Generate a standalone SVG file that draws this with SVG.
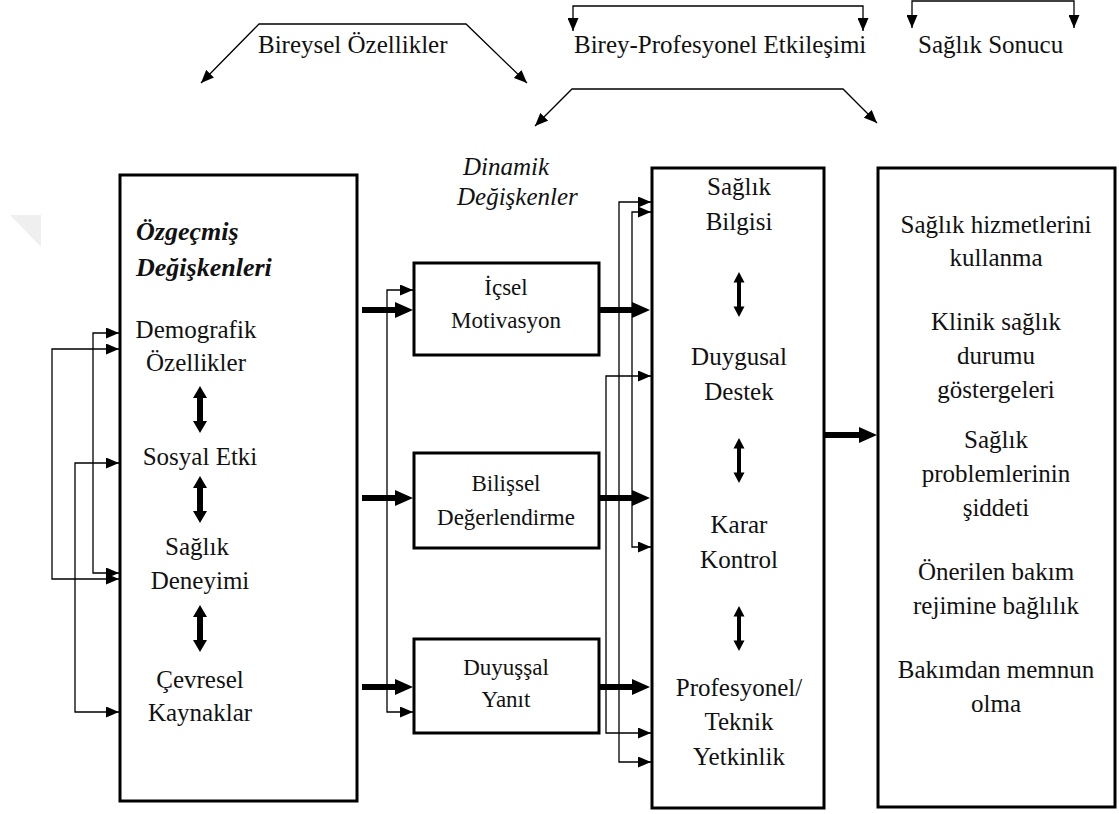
<svg xmlns="http://www.w3.org/2000/svg" width="1119" height="814" viewBox="0 0 1119 814" font-family="'Liberation Serif', 'Times New Roman', serif">
<style>
text{font-family:"Liberation Serif","Times New Roman",serif;font-size:25px;fill:#111;}
.c{text-anchor:middle;}
.m{font-size:23px;}
.bi{font-weight:bold;font-style:italic;font-size:26px;}
.it{font-style:italic;}
.box{fill:#fff;stroke:#000;stroke-width:3;}
.thin{fill:none;stroke:#000;stroke-width:1.3;}
.thick{fill:none;stroke:#000;stroke-width:6;}
.dbl{fill:#000;}
</style>
<defs>
<marker id="ah" viewBox="0 0 13 11" refX="13" refY="5.5" markerWidth="13" markerHeight="11" markerUnits="userSpaceOnUse" orient="auto-start-reverse"><path d="M0,0 L13,5.5 L0,11 Z" fill="#000"/></marker>
<marker id="ahT" viewBox="0 0 18 16" refX="1" refY="8" markerWidth="18" markerHeight="16" markerUnits="userSpaceOnUse" orient="auto"><path d="M0,0 L18,8 L0,16 Z" fill="#000"/></marker>
<path id="dblL" d="M0,-23.5 L7,-11.5 L3,-11.5 L3,11.5 L7,11.5 L0,23.5 L-7,11.5 L-3,11.5 L-3,-11.5 L-7,-11.5 Z"/>
<path id="dblS" d="M0,-22.5 L5.5,-12 L2,-12 L2,12 L5.5,12 L0,22.5 L-5.5,12 L-2,12 L-2,-12 L-5.5,-12 Z"/>
</defs>
<rect width="1119" height="814" fill="#fff"/>
<polygon points="10,215 41,215 41,247" fill="#efefef"/>

<g id="labels" font-family="'Liberation Serif', serif">
<text x="258" y="53">Bireysel Özellikler</text>
<text x="574" y="53">Birey-Profesyonel Etkileşimi</text>
<text x="918" y="53">Sağlık Sonucu</text>
<text class="it" x="463" y="175">Dinamik</text>
<text class="it" x="457" y="205">Değişkenler</text>
</g>

<g id="node-background" font-family="'Liberation Serif', serif">
<rect class="box" x="120" y="175" width="237" height="626"/>
<text class="bi" x="136" y="240">Özgeçmiş</text>
<text class="bi" x="136" y="276">Değişkenleri</text>
<text class="c" x="196" y="338">Demografik</text>
<text class="c" x="196" y="371">Özellikler</text>
<text class="c" x="200" y="465">Sosyal Etki</text>
<text class="c" x="197" y="555">Sağlık</text>
<text class="c" x="200" y="589">Deneyimi</text>
<text class="c" x="200" y="688">Çevresel</text>
<text class="c" x="200" y="721">Kaynaklar</text>
<use href="#dblL" x="200" y="409.5" class="dbl"/>
<use href="#dblL" x="200" y="499.5" class="dbl"/>
<use href="#dblL" x="200" y="628.5" class="dbl"/>
</g>

<g id="node-icsel" font-family="'Liberation Serif', serif">
<rect class="box" x="414" y="263" width="185" height="92"/>
<text class="c m" x="506" y="295">İçsel</text>
<text class="c m" x="506" y="328">Motivasyon</text>
</g>
<g id="node-bilissel" font-family="'Liberation Serif', serif">
<rect class="box" x="414" y="453" width="185" height="95"/>
<text class="c m" x="506" y="491">Bilişsel</text>
<text class="c m" x="506" y="525">Değerlendirme</text>
</g>
<g id="node-duyussal" font-family="'Liberation Serif', serif">
<rect class="box" x="414" y="639" width="185" height="94"/>
<text class="c m" x="506" y="675">Duyuşşal</text>
<text class="c m" x="506" y="707">Yanıt</text>
</g>

<g id="node-interaction" font-family="'Liberation Serif', serif">
<rect class="box" x="652" y="168" width="172" height="640"/>
<text class="c" x="739" y="195">Sağlık</text>
<text class="c" x="739" y="230">Bilgisi</text>
<text class="c" x="739" y="365">Duygusal</text>
<text class="c" x="739" y="400">Destek</text>
<text class="c" x="739" y="533">Karar</text>
<text class="c" x="739" y="568">Kontrol</text>
<text class="c" x="739" y="696">Profesyonel/</text>
<text class="c" x="739" y="730">Teknik</text>
<text class="c" x="739" y="765">Yetkinlik</text>
<use href="#dblS" x="739" y="294.5" class="dbl"/>
<use href="#dblS" x="739" y="460.5" class="dbl"/>
<use href="#dblS" x="739" y="628.5" class="dbl"/>
</g>

<g id="node-outcome" font-family="'Liberation Serif', serif">
<rect class="box" x="878" y="168" width="237" height="639"/>
<text class="c" x="996" y="233">Sağlık hizmetlerini</text>
<text class="c" x="996" y="266">kullanma</text>
<text class="c" x="996" y="330">Klinik sağlık</text>
<text class="c" x="996" y="364">durumu</text>
<text class="c" x="996" y="398">göstergeleri</text>
<text class="c" x="996" y="448">Sağlık</text>
<text class="c" x="996" y="482">problemlerinin</text>
<text class="c" x="996" y="516">şiddeti</text>
<text class="c" x="996" y="580">Önerilen bakım</text>
<text class="c" x="996" y="614">rejimine bağlılık</text>
<text class="c" x="996" y="678">Bakımdan memnun</text>
<text class="c" x="996" y="712">olma</text>
</g>

<g id="connectors">
<polyline class="thin" points="201,83 259,24 466,24 527,83" marker-start="url(#ah)" marker-end="url(#ah)"/>
<polyline class="thin" points="573,31 573,6 863,6 863,31" marker-start="url(#ah)" marker-end="url(#ah)"/>
<polyline class="thin" points="912,28 912,1 1074,1 1074,28" marker-start="url(#ah)" marker-end="url(#ah)"/>
<polyline class="thin" points="535,126 572,89 843,89 877,123" marker-start="url(#ah)" marker-end="url(#ah)"/>

<polyline class="thin" points="119,333 93,333 93,573 119,573" marker-start="url(#ah)" marker-end="url(#ah)"/>
<polyline class="thin" points="119,349 52,349 52,579 119,579" marker-start="url(#ah)" marker-end="url(#ah)"/>
<polyline class="thin" points="119,463 75,463 75,712 119,712" marker-start="url(#ah)" marker-end="url(#ah)"/>

<polyline class="thin" points="413,290 387,290 387,712 413,712" marker-start="url(#ah)" marker-end="url(#ah)"/>

<polyline class="thin" points="651,202 619,202 619,762 651,762" marker-start="url(#ah)" marker-end="url(#ah)"/>
<polyline class="thin" points="651,212 632,212 632,547 651,547" marker-start="url(#ah)" marker-end="url(#ah)"/>
<polyline class="thin" points="651,376 606,376 606,733 651,733" marker-start="url(#ah)" marker-end="url(#ah)"/>

<line class="thick" x1="362" y1="310" x2="396" y2="310" marker-end="url(#ahT)"/>
<line class="thick" x1="362" y1="498" x2="396" y2="498" marker-end="url(#ahT)"/>
<line class="thick" x1="362" y1="687" x2="396" y2="687" marker-end="url(#ahT)"/>
<line class="thick" x1="599" y1="310" x2="633" y2="310" marker-end="url(#ahT)"/>
<line class="thick" x1="599" y1="498" x2="633" y2="498" marker-end="url(#ahT)"/>
<line class="thick" x1="599" y1="687" x2="633" y2="687" marker-end="url(#ahT)"/>
<line class="thick" x1="824" y1="435" x2="860" y2="435" marker-end="url(#ahT)"/>
</g>
</svg>
